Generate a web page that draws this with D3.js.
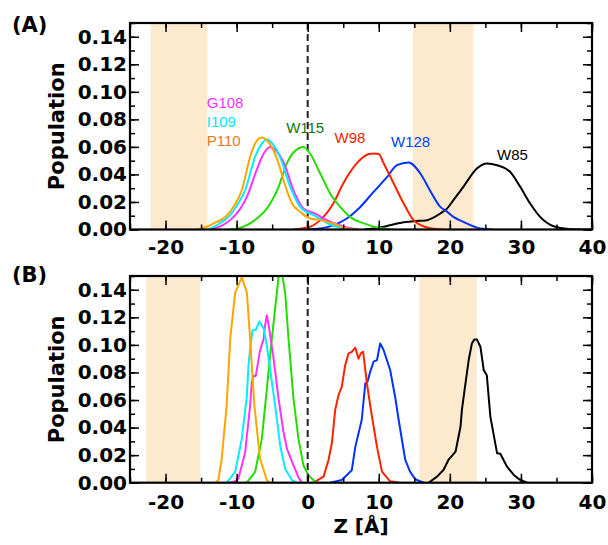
<!DOCTYPE html>
<html><head><meta charset="utf-8">
<script src="https://cdn.jsdelivr.net/npm/d3@7"></script>
<style>
html,body{margin:0;padding:0;background:#fff;}
svg{display:block;}
</style>
</head><body>
<svg id="chart" width="608" height="545"></svg>
<script>
// ---------- DATA ----------
const xTickLabels = [-20, -10, 0, 10, 20, 30, 40];
const yTickLabels = [0.00, 0.02, 0.04, 0.06, 0.08, 0.10, 0.12, 0.14];
const seriesNames = ["G108", "I109", "P110", "W115", "W98", "W128", "W85"];
const seriesColors = ["#ff33ff", "#00eeff", "#ffa500", "#22dd00", "#ff2200", "#0033ff", "#000000"];
const labelColors = ["#ff33ff", "#00e8ff", "#e87722", "#117711", "#ff2200", "#0044ff", "#000000"];

// Panel A (smooth)  [z, population]
const aG108 = [[-14,0],[-12,0.003],[-10.45,0.009],[-9.5,0.015],[-8.56,0.0237],[-7.2,0.043],[-6.2,0.055],[-5.3,0.060],[-4.4,0.057],[-3.4,0.049],[-2.0,0.0285],[-0.6,0.0152],[1.06,0.0116],[2.7,0.0068],[4.6,0.003],[6,0.001],[7,0]];
const aI109 = [[-14,0],[-12.5,0.004],[-10.9,0.0104],[-9.9,0.018],[-8.8,0.0285],[-7.4,0.0527],[-6.5,0.062],[-5.75,0.0654],[-4.9,0.062],[-3.9,0.0527],[-2.46,0.031],[-1.06,0.0164],[0.82,0.0104],[2,0.007],[3,0.004],[4.5,0.0015],[6,0]];
const aP110 = [[-15.5,0],[-14.2,0.002],[-12.8,0.0055],[-11.6,0.009],[-10.45,0.0164],[-9.27,0.0285],[-8.1,0.0527],[-7.4,0.0625],[-6.45,0.0668],[-5.75,0.0649],[-4.82,0.0576],[-4.1,0.048],[-3.4,0.0358],[-2.7,0.025],[-2.2,0.0189],[-1.06,0.0128],[0.35,0.008],[1.76,0.0068],[3.6,0.0044],[5,0.0015],[7,0]];
const aW115 = [[-11,0],[-10,0.0005],[-8.1,0.0044],[-6.9,0.009],[-5.75,0.0152],[-4.1,0.031],[-2.93,0.048],[-1.8,0.057],[-0.6,0.060],[0.35,0.055],[1.76,0.0407],[3.17,0.026],[4.58,0.0164],[6,0.009],[7.8,0.0046],[9.75,0.0015],[12,0]];
const aW98 = [[-2,0],[0.35,0.002],[1.76,0.0068],[3.6,0.0189],[5.0,0.0334],[6.9,0.048],[8.6,0.0548],[9.3,0.0552],[10,0.0548],[10.7,0.048],[12.1,0.0334],[13.5,0.0189],[14.9,0.0068],[16.8,0.0015],[19,0]];
const aW128 = [[0,0],[1.76,0.0007],[3.6,0.003],[5.5,0.008],[7.4,0.0164],[9.27,0.0273],[11.15,0.038],[12.56,0.0467],[14.2,0.0487],[15.85,0.0407],[17.25,0.028],[18.66,0.0164],[19.6,0.013],[20.5,0.0092],[21.9,0.0055],[24.3,0.0007],[26,0]];
const aW85 = [[8,0],[10.2,0.0015],[13,0.0048],[14.9,0.006],[16.8,0.0068],[18.66,0.0116],[19.6,0.0152],[20.5,0.0213],[21.9,0.031],[23.8,0.0443],[25.2,0.048],[26.65,0.0467],[28.5,0.0418],[29.9,0.031],[31.3,0.0189],[32.7,0.0092],[34.6,0.0024],[37,0.0002],[40,0]];

// Panel B (histograms)
const bG108 = [[-11,0],[-10.2,0.001],[-9.75,0.003],[-8.8,0.022],[-8.1,0.056],[-7.86,0.073],[-7.63,0.0775],[-7.3,0.0775],[-6.9,0.09],[-6.7,0.096],[-6.2,0.1045],[-6.0,0.114],[-5.75,0.1215],[-5.42,0.112],[-4.8,0.09],[-4.1,0.061],[-3.4,0.0368],[-2.93,0.0247],[-2.0,0.0126],[-1.3,0.004],[-0.8,0]];
const bI109 = [[-11.4,0],[-10.2,0.0078],[-9.27,0.032],[-8.56,0.063],[-8.33,0.085],[-8.1,0.097],[-7.77,0.1105],[-7.3,0.111],[-6.8,0.117],[-6.2,0.112],[-5.75,0.0997],[-5.3,0.083],[-4.58,0.056],[-3.87,0.027],[-3.17,0.010],[-2.2,0.0017],[-1.5,0]];
const bP110 = [[-13.0,0],[-12.56,0.002],[-12.1,0.0174],[-11.4,0.056],[-10.9,0.1045],[-10.2,0.138],[-9.27,0.149],[-8.56,0.138],[-8.1,0.1045],[-7.5,0.056],[-6.7,0.0174],[-5.75,0.002],[-5.3,0]];
const bW115 = [[-8.56,0],[-7.4,0.0078],[-6.45,0.032],[-5.75,0.068],[-5.04,0.1045],[-4.34,0.138],[-3.9,0.16],[-3.17,0.138],[-2.7,0.1045],[-2.0,0.061],[-1.3,0.032],[-0.6,0.0126],[0.1,0.0054],[0.8,0.002],[1.3,0]];
const bW98 = [[0.82,0],[2.23,0.0044],[2.93,0.0165],[3.4,0.0286],[3.87,0.053],[4.34,0.0636],[4.8,0.0697],[5.28,0.0854],[5.75,0.0939],[6.2,0.095],[6.7,0.098],[7.15,0.090],[7.5,0.094],[7.8,0.095],[8.33,0.072],[9.04,0.048],[9.75,0.026],[10.45,0.008],[11.6,0.001],[12.9,0]];
const bW128 = [[3.17,0],[4.8,0.002],[6.2,0.009],[6.7,0.026],[7.6,0.0455],[8.1,0.072],[8.4,0.073],[8.8,0.0806],[9.27,0.0878],[9.75,0.089],[10.2,0.101],[10.68,0.0963],[11.6,0.0818],[12.3,0.0624],[12.8,0.0455],[13.73,0.0165],[14.4,0.008],[15.14,0.0025],[16.3,0]];
const bW85 = [[17.0,0],[18.2,0.0044],[19.1,0.0092],[19.8,0.0165],[20.8,0.0225],[21.5,0.0406],[21.7,0.053],[22.2,0.072],[22.65,0.089],[23.1,0.101],[23.45,0.104],[23.8,0.104],[24.3,0.0987],[24.76,0.0818],[25.2,0.078],[25.7,0.048],[26.65,0.0213],[27.1,0.021],[28.05,0.0116],[29.0,0.0056],[29.9,0.002],[30.9,0]];

// membrane (shaded) regions [zStart, zEnd]
const shadeA = [[-22.1, -14.1], [14.8, 23.3]];
const shadeB = [[-22.7, -15.1], [15.7, 23.8]];

// in-plot labels for panel A: [name index, z, population]
const labelsA = [[0,-14.2,0.0886],[1,-14.2,0.0745],[2,-14.2,0.0607],[3,-3.03,0.0702],[4,3.77,0.0625],[5,11.72,0.060],[6,26.65,0.0503]];

// ---------- DRAW ----------
const svg = d3.select("#chart");
const xDomain = [-25, 40], yDomain = [0, 0.15];
const boldFont = "'DejaVu Sans', sans-serif";
const regFont = "'Liberation Sans', Arial, sans-serif";

const panels = [
  {id:"A", top:23, bottom:229.5, smooth:true, data:[aG108,aI109,aP110,aW115,aW98,aW128,aW85], shade:shadeA, tag:"(A)", tagY:32, xPad:10},
  {id:"B", top:276, bottom:482.7, smooth:false, data:[bG108,bI109,bP110,bW115,bW98,bW128,bW85], shade:shadeB, tag:"(B)", tagY:282, xPad:12}
];
const left = 130, right = 592;
const x = d3.scaleLinear().domain(xDomain).range([left, right]);

panels.forEach(p => {
  const y = d3.scaleLinear().domain(yDomain).range([p.bottom, p.top]);
  const g = svg.append("g");
  const clipId = "clip" + p.id;
  svg.append("clipPath").attr("id", clipId).append("rect")
    .attr("x", left).attr("y", p.top).attr("width", right-left).attr("height", p.bottom-p.top);

  // shaded regions
  g.selectAll("rect.shade").data(p.shade).enter().append("rect")
    .attr("x", d => x(d[0])).attr("width", d => x(d[1]) - x(d[0]))
    .attr("y", p.top).attr("height", p.bottom - p.top)
    .attr("fill", "#fde9cd");

  // dashed zero line
  g.append("line").attr("x1", x(0)).attr("x2", x(0)).attr("y1", p.top).attr("y2", p.bottom)
    .attr("stroke", "#222").attr("stroke-width", 2).attr("stroke-dasharray", "7,4");

  // curves
  const line = d3.line().x(d => x(d[0])).y(d => y(d[1]))
    .curve(p.smooth ? d3.curveMonotoneX : d3.curveLinear);
  const order = [6,5,4,3,0,1,2];
  order.forEach(i => {
    g.append("path").datum(p.data[i]).attr("d", line)
      .attr("fill", "none").attr("stroke", seriesColors[i]).attr("stroke-width", 2)
      .attr("stroke-linejoin", "round").attr("clip-path", `url(#${clipId})`);
  });

  // axes: minor ticks
  const minorX = d3.range(-25, 40.1, 5);
  const minorY = d3.range(0, 0.1501, 0.01);
  const mk = (axis, tr) => {
    const a = g.append("g").attr("transform", tr).call(axis);
    a.select(".domain").remove();
    a.selectAll("line").attr("stroke", "#000").attr("stroke-width", 1.5);
    return a;
  };
  // bottom
  mk(d3.axisBottom(x).tickValues(minorX).tickSize(-5).tickFormat(""), `translate(0,${p.bottom})`);
  mk(d3.axisTop(x).tickValues(minorX).tickSize(-5).tickFormat(""), `translate(0,${p.top})`);
  mk(d3.axisLeft(y).tickValues(minorY).tickSize(-5).tickFormat(""), `translate(${left},0)`);
  mk(d3.axisRight(y).tickValues(minorY).tickSize(-5).tickFormat(""), `translate(${right},0)`);
  // major
  const bx = mk(d3.axisBottom(x).tickValues(xTickLabels).tickSize(-9).tickPadding(p.xPad).tickFormat(d3.format("d")), `translate(0,${p.bottom})`);
  bx.selectAll("text").attr("font-family", boldFont).attr("font-weight", "bold").attr("font-size", 20).attr("fill", "#000")
    .text(d => d < 0 ? "-" + Math.abs(d) : d);
  mk(d3.axisTop(x).tickValues(xTickLabels).tickSize(-9).tickFormat(""), `translate(0,${p.top})`);
  const ly = mk(d3.axisLeft(y).tickValues(yTickLabels).tickSize(-9).tickPadding(3).tickFormat(d3.format(".2f")), `translate(${left},0)`);
  ly.selectAll("text").attr("font-family", boldFont).attr("font-weight", "bold").attr("font-size", 20).attr("fill", "#000");
  mk(d3.axisRight(y).tickValues(yTickLabels).tickSize(-9).tickFormat(""), `translate(${right},0)`);

  // frame
  g.append("rect").attr("x", left).attr("y", p.top).attr("width", right-left).attr("height", p.bottom-p.top)
    .attr("fill", "none").attr("stroke", "#000").attr("stroke-width", 2.2);

  // y title
  g.append("text").attr("transform", `translate(63.5,${(p.top+p.bottom)/2}) rotate(-90)`)
    .attr("text-anchor", "middle").attr("font-family", boldFont).attr("font-weight", "bold")
    .attr("font-size", 21).text("Population");

  // panel tag
  g.append("text").attr("x", 12).attr("y", p.tagY).attr("font-family", boldFont).attr("font-weight", "bold")
    .attr("font-size", 21).text(p.tag);

  if (p.id === "A") {
    g.selectAll("text.lbl").data(labelsA).enter().append("text")
      .attr("x", d => x(d[1])).attr("y", d => y(d[2]))
      .attr("font-family", regFont).attr("font-size", 15)
      .attr("fill", d => labelColors[d[0]]).text(d => seriesNames[d[0]]);
  }
});

// x title
svg.append("text").attr("x", (left+right)/2).attr("y", 533).attr("text-anchor", "middle")
  .attr("font-family", boldFont).attr("font-weight", "bold").attr("font-size", 20).text("Z [Å]");
</script>
</body></html>
